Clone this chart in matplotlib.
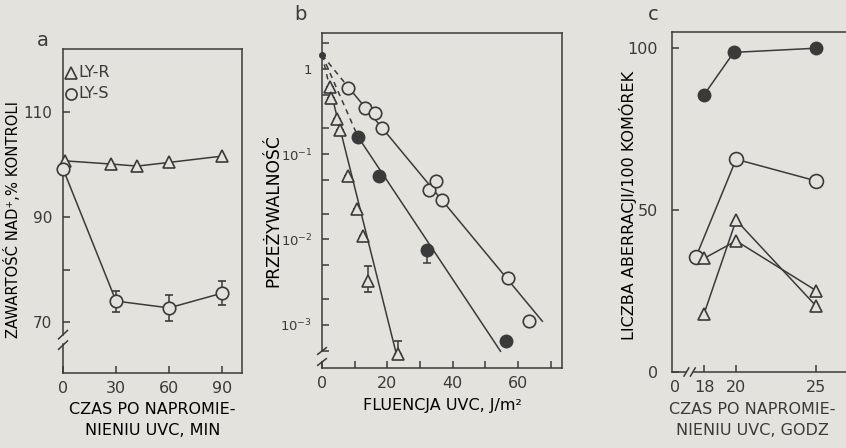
import numpy as np
import matplotlib
matplotlib.use("Agg")
import matplotlib.pyplot as plt
import matplotlib.transforms as mtransforms

# ---------------- data ----------------
# panel a
a_r_x = [1, 27, 42, 60, 90]
a_r_y = [100.7, 100.1, 99.7, 100.4, 101.6]
a_s_x = [0, 30, 60, 90]
a_s_y = [99.2, 74.0, 72.7, 75.5]
a_s_err = [0, 2.0, 2.5, 2.3]
a_xticks = [0, 30, 60, 90]
a_yticks = [70, 90, 110]
a_legend = ["LY-R", "LY-S"]

# panel b
b_open_x = [7.9, 13.0, 16.3, 18.5, 32.6, 34.9, 36.6, 57.0, 63.4]
b_open_y = [0.60, 0.35, 0.30, 0.20, 0.038, 0.049, 0.029, 0.0035, 0.0011]
b_fill_x = [11.0, 17.3, 32.0, 56.3]
b_fill_y = [0.16, 0.056, 0.0076, 0.00064]
b_fill_err_lo = [0, 0, 0.0023, 0]
b_fill_err_hi = [0, 0, 0, 0]
b_tri_x = [2.3, 2.7, 4.6, 5.4, 8.1, 10.7, 12.5, 14.0, 23.1]
b_tri_y = [0.62, 0.45, 0.26, 0.19, 0.056, 0.023, 0.011, 0.0033, 0.00045]
b_tri_err_lo = [0, 0, 0, 0, 0, 0, 0, 0.0009, 0]
b_tri_err_hi = [0, 0, 0, 0, 0, 0, 0, 0.0016, 0.0002]
# fitted lines: common intercept, knee (end of dashed part), end of solid part
fit_x0, fit_y0 = 0.0, 1.46
fit_knee_x = [7.9, 11.0, 2.3]
fit_knee_y = [0.62, 0.16, 0.62]
fit_end_x = [67.4, 54.6, 22.9]
fit_end_y = [0.0011, 0.00049, 0.00043]
b_xticks = [0, 20, 40, 60]
b_yticks = [1, 0.1, 0.01, 0.001]
b_ytick_labels = [r"$\mathregular{1}$", r"$\mathregular{10^{-1}}$",
                  r"$\mathregular{10^{-2}}$", r"$\mathregular{10^{-3}}$"]

# panel c
c_fill_x = [18, 19.85, 25]
c_fill_y = [85.6, 98.7, 100]
c_open_x = [17.5, 20, 25]
c_open_y = [35.6, 65.7, 59.0]
c_triA_x = [18, 20, 25]
c_triA_y = [35.1, 40.5, 25.1]
c_triB_x = [18, 20, 25]
c_triB_y = [18.0, 46.9, 20.3]
c_xticks = [18, 20, 25]
c_yticks = [0, 50, 100]

# ---------------- style ----------------
BG = "#e4e2dc"
INK = "#3a3a3a"
plt.rcParams["font.family"] = ["DejaVu Sans"]
plt.rcParams["text.color"] = INK
plt.rcParams["axes.edgecolor"] = INK
plt.rcParams["xtick.color"] = INK
plt.rcParams["ytick.color"] = INK
LW = 1.1
TICKFS = 11.5
LABFS = 11.5

fig = plt.figure(figsize=(8.46, 4.48), dpi=100, facecolor=BG)
W, H = 846.0, 448.0


def box(l, t, r, b):
    return [l / W, 1 - b / H, (r - l) / W, (b - t) / H]


axa = fig.add_axes(box(63, 49, 242, 373))
axb = fig.add_axes(box(322, 33, 562, 368))
axc = fig.add_axes(box(672, 32, 858, 372))

for ax in (axa, axb, axc):
    ax.set_facecolor(BG)
    for s in ax.spines.values():
        s.set_linewidth(LW)
    ax.tick_params(direction="in", length=5, width=LW, labelsize=TICKFS)
    ax.tick_params(which="minor", direction="in", length=5, width=LW)

mk_open = dict(marker="o", mfc=BG, mec=INK, mew=1.2, color=INK, lw=LW)
mk_tri = dict(marker="^", mfc=BG, mec=INK, mew=1.2, color=INK, lw=LW)
mk_fill = dict(marker="o", mfc=INK, mec=INK, mew=1.0, color=INK, lw=LW)

# ---------------- panel a ----------------
axa.set_xlim(0, 101.3)
axa.set_ylim(60.3, 122)
axa.plot(a_r_x, a_r_y, ms=8, clip_on=False, zorder=3, **mk_tri)
axa.errorbar(a_s_x, a_s_y, yerr=a_s_err, ms=9, capsize=3, elinewidth=LW,
             capthick=LW, clip_on=False, zorder=3, **mk_open)
axa.set_xticks(a_xticks)
axa.set_yticks(a_yticks)
axa.set_yticks([80, 100], minor=True)
axa.tick_params(axis="y", which="both", pad=8, labelsize=11)
axa.tick_params(axis="x", pad=6)
axa.set_ylabel("ZAWARTOŚĆ NAD\u207a,% KONTROLI", fontsize=10.6)
axa.yaxis.set_label_coords(-0.235, 0.475)
axa.set_xlabel("CZAS PO NAPROMIE-\nNIENIU UVC, MIN", fontsize=LABFS, labelpad=4,
               linespacing=1.5)
# broken y-axis
axa.spines["left"].set_visible(False)
tr = mtransforms.blended_transform_factory(axa.transAxes, axa.transData)
axa.plot([0, 0], [60.3, 65.8], transform=tr, color=INK, lw=LW, clip_on=False)
axa.plot([0, 0], [67.6, 122], transform=tr, color=INK, lw=LW, clip_on=False)
for yb in (65.6, 67.6):
    axa.plot([-0.025, 0.025], [yb - 0.8, yb + 0.8], transform=tr, color=INK,
             lw=LW, clip_on=False)
# legend drawn by hand
axa.plot([0.045], [0.927], transform=axa.transAxes, ls="none", marker="^",
         mfc=BG, mec=INK, mew=1.2, ms=8, clip_on=False)
axa.plot([0.045], [0.862], transform=axa.transAxes, ls="none", marker="o",
         mfc=BG, mec=INK, mew=1.2, ms=8, clip_on=False)
axa.text(0.088, 0.927, a_legend[0], transform=axa.transAxes, fontsize=LABFS,
         ha="left", va="center")
axa.text(0.088, 0.862, a_legend[1], transform=axa.transAxes, fontsize=LABFS,
         ha="left", va="center")
fig.text(43 / W, 1 - 40 / H, "a", fontsize=14, ha="center", va="center")

# ---------------- panel b ----------------
axb.set_yscale("log")
axb.set_xlim(0, 73.4)
axb.set_ylim(10 ** -3.506, 10 ** 0.42)
for kx, ky, ex, ey in zip(fit_knee_x, fit_knee_y, fit_end_x, fit_end_y):
    axb.plot([fit_x0, kx], [fit_y0, ky], color=INK, lw=LW, ls=(0, (3.5, 3)),
             zorder=2)
    axb.plot([kx, ex], [ky, ey], color=INK, lw=LW, zorder=2)
axb.plot([fit_x0], [fit_y0], "o", color=INK, ms=4, clip_on=False, zorder=4)
axb.plot(b_open_x, b_open_y, ls="none", ms=9, zorder=3,
         **{k: v for k, v in mk_open.items() if k not in ("lw",)})
axb.errorbar(b_fill_x, b_fill_y, yerr=[b_fill_err_lo, b_fill_err_hi], ls="none",
             marker="o", mfc=INK, mec=INK, ms=9, ecolor=INK, elinewidth=LW,
             capsize=3, capthick=LW, zorder=3)
axb.errorbar(b_tri_x, b_tri_y, yerr=[b_tri_err_lo, b_tri_err_hi], ls="none",
             marker="^", mfc=BG, mec=INK, mew=1.2, ms=8.5, ecolor=INK,
             elinewidth=LW, capsize=3, capthick=LW, zorder=3)
axb.set_xticks(b_xticks)
axb.set_xticks([10, 30, 50, 70], minor=True)
axb.set_yticks(b_yticks)
axb.set_yticklabels(b_ytick_labels)
axb.yaxis.set_minor_locator(matplotlib.ticker.LogLocator(base=10, subs=(2, 5)))
axb.yaxis.set_minor_formatter(matplotlib.ticker.NullFormatter())
axb.tick_params(axis="y", which="both", pad=7, labelsize=9.5)
axb.tick_params(axis="x", pad=6)
axb.set_ylabel("PRZEŻYWALNOŚĆ", fontsize=12.3)
axb.yaxis.set_label_coords(-0.165, 0.47)
axb.set_xlabel("FLUENCJA UVC, J/m\u00b2", fontsize=LABFS, labelpad=5)
axb.spines["left"].set_visible(False)
trb = mtransforms.blended_transform_factory(axb.transAxes, axb.transAxes)
yb1 = (368 - 362) / 335.0
yb2 = (368 - 351) / 335.0
axb.plot([0, 0], [0, yb1], transform=trb, color=INK, lw=LW, clip_on=False)
axb.plot([0, 0], [yb2, 1], transform=trb, color=INK, lw=LW, clip_on=False)
for yy in (yb1, yb2):
    axb.plot([-0.018, 0.018], [yy - 0.01, yy + 0.01], transform=trb,
             color=INK, lw=LW, clip_on=False)
fig.text(300 / W, 1 - 15 / H, "b", fontsize=14, ha="center", va="center")

# ---------------- panel c ----------------
axc.set_xlim(16.0, 27.6)
axc.set_ylim(0, 105)
axc.plot(c_fill_x, c_fill_y, ms=9, zorder=3, **mk_fill)
axc.plot(c_open_x, c_open_y, ms=10, zorder=3, **mk_open)
axc.plot(c_triA_x, c_triA_y, ms=8.5, zorder=3, **mk_tri)
axc.plot(c_triB_x, c_triB_y, ms=8.5, zorder=3, **mk_tri)
axc.set_xticks(c_xticks)
axc.set_yticks(c_yticks)
axc.tick_params(axis="y", pad=10)
axc.tick_params(axis="x", pad=6)
axc.spines["right"].set_visible(False)
axc.spines["bottom"].set_visible(False)
trc = mtransforms.blended_transform_factory(axc.transData, axc.transAxes)
axc.plot([16.0, 16.85], [0, 0], transform=trc, color=INK, lw=LW, clip_on=False)
axc.plot([17.35, 27.6], [0, 0], transform=trc, color=INK, lw=LW, clip_on=False)
for xb in (16.9, 17.3):
    axc.plot([xb - 0.15, xb + 0.15], [-0.012, 0.012], transform=trc, color=INK,
             lw=LW, clip_on=False)
axc.text(16.2, -0.024, "0", transform=trc, fontsize=TICKFS, ha="center",
         va="top")
axc.set_ylabel("LICZBA ABERRACJI/100 KOMÓREK", fontsize=LABFS)
axc.yaxis.set_label_coords(-0.19, 0.49)
fig.text(752 / W, 1 - 420 / H, "CZAS PO NAPROMIE-\nNIENIU UVC, GODZ",
         fontsize=LABFS, ha="center", va="center", linespacing=1.5)
fig.text(653 / W, 1 - 15 / H, "c", fontsize=14, ha="center", va="center")

fig.savefig("out.png", dpi=100, facecolor=BG)
